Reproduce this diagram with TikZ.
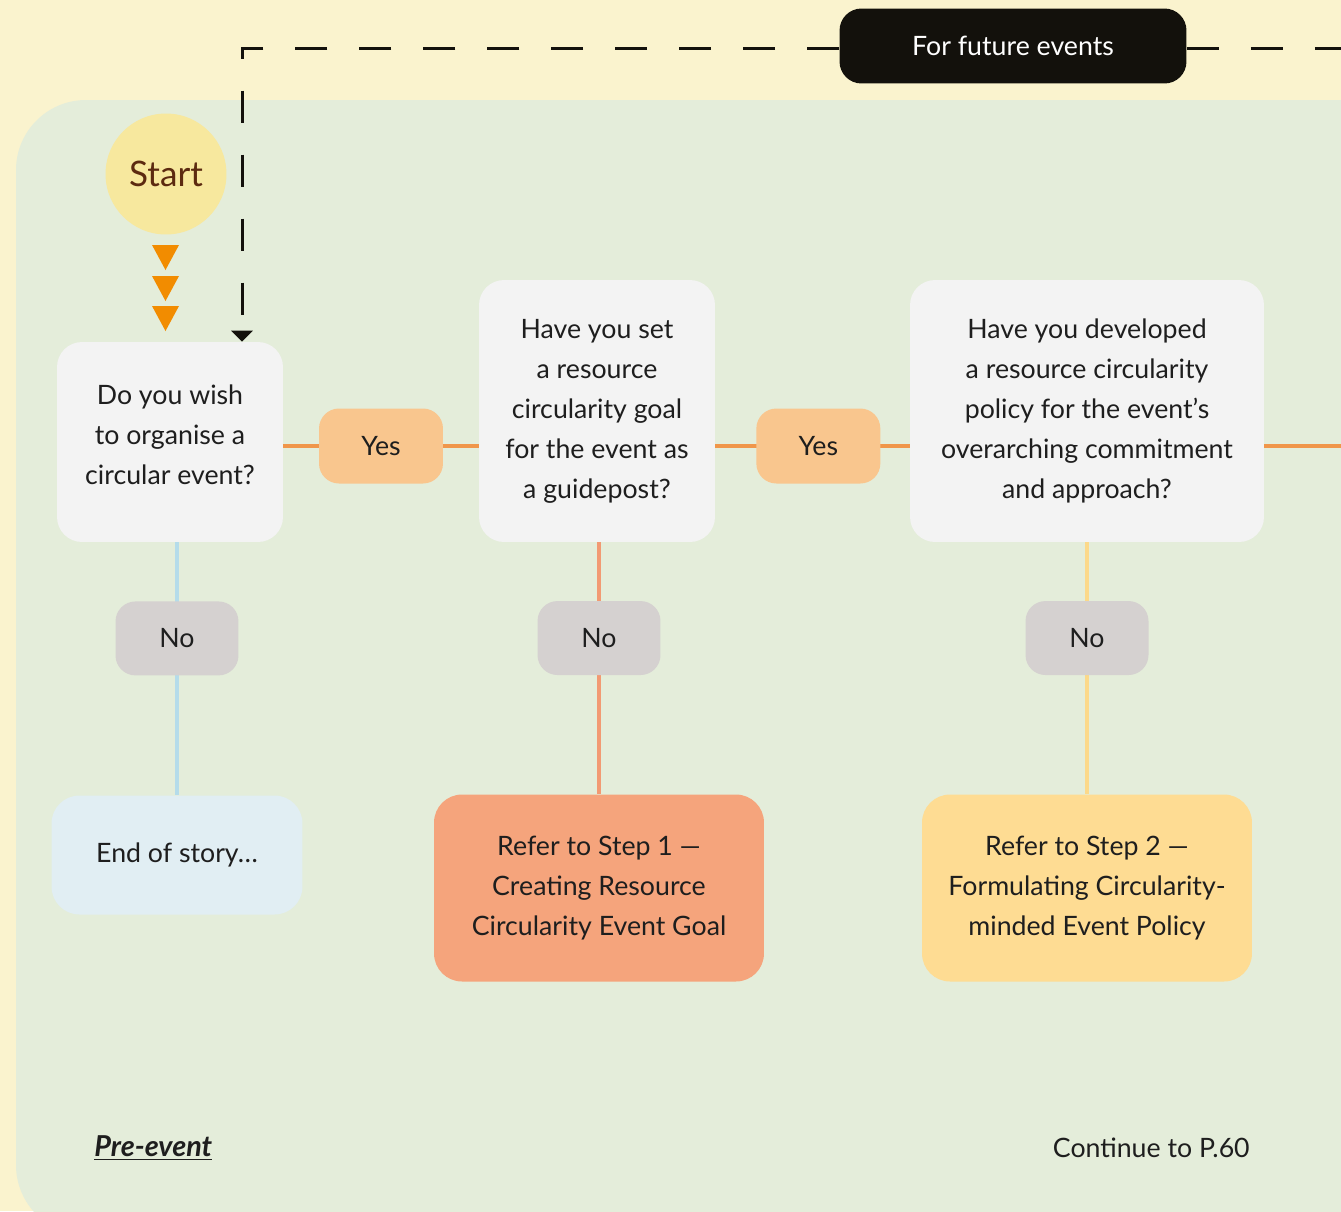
\documentclass[tikz,border=0pt]{standalone}
\usepackage{fontspec}
\setmainfont{Lato}
\usetikzlibrary{positioning,arrows.meta}

\definecolor{creambg}{RGB}{250,243,206}
\definecolor{panelgreen}{RGB}{228,237,218}
\definecolor{boxgrey}{RGB}{243,243,243}
\definecolor{yesorange}{RGB}{249,198,142}
\definecolor{nogrey}{RGB}{213,209,208}
\definecolor{lineorange}{RGB}{240,150,74}
\definecolor{lineblue}{RGB}{181,220,234}
\definecolor{linesalmon}{RGB}{242,154,115}
\definecolor{lineyellow}{RGB}{252,217,138}
\definecolor{endblue}{RGB}{225,238,243}
\definecolor{stepsalmon}{RGB}{245,164,124}
\definecolor{stepyellow}{RGB}{254,220,147}
\definecolor{startyellow}{RGB}{247,232,158}
\definecolor{startbrown}{RGB}{92,42,16}
\definecolor{arroworange}{RGB}{242,140,0}
\definecolor{inkblack}{RGB}{19,17,12}
\definecolor{textdark}{RGB}{30,30,30}

\newcommand{\flowfont}{\fontsize{15.2}{22.76}\selectfont}
\newcommand{\startfont}{\fontsize{20}{24}\selectfont}

\begin{document}
\begin{tikzpicture}[x=0.02cm, y=-0.02cm] %Pre-event
            \tikzstyle{question} = [rectangle, rounded corners=0.5cm, fill=boxgrey, text=textdark, align=center, inner sep=0pt, font=\flowfont]
            \tikzstyle{yesbox} = [rectangle, rounded corners=0.4cm, fill=yesorange, text=textdark, minimum width=2.48cm, minimum height=1.5cm, inner sep=0pt, font=\flowfont]
            \tikzstyle{nobox} = [rectangle, rounded corners=0.4cm, fill=nogrey, text=textdark, minimum width=2.46cm, minimum height=1.48cm, inner sep=0pt, font=\flowfont]
            \tikzstyle{stepbox} = [rectangle, rounded corners=0.56cm, text=textdark, align=center, minimum width=6.6cm, minimum height=3.74cm, inner sep=0pt, font=\flowfont]
            \tikzstyle{endbox} = [rectangle, rounded corners=0.56cm, fill=endblue, text=textdark, minimum width=5.02cm, minimum height=2.38cm, inner sep=0pt, font=\flowfont]
            \tikzstyle{darkbox} = [rectangle, rounded corners=0.44cm, fill=inkblack, text=white, minimum width=6.94cm, minimum height=1.5cm, inner sep=0pt, font=\flowfont]
            \tikzstyle{startcircle} = [circle, fill=startyellow, text=startbrown, minimum size=2.42cm, inner sep=0pt, font=\startfont]
            \tikzstyle{flowline} = [line width=0.08cm]
            \tikzstyle{loopline} = [line width=0.06cm, draw=inkblack, dash pattern=on 0.64cm off 0.64cm]

            \clip (0,0) rectangle (1341,1211);
            \useasboundingbox (0,0) rectangle (1341,1211);
            \fill[creambg] (0,0) rectangle (1341,1211);
            \fill[panelgreen, rounded corners=1.4cm] (16,100) rectangle (1420,1235);

            \node[startcircle] (start) at (166,174) {Start};
            \node[darkbox] (future) at (1013,46) {For future events};

            \node[question, minimum width=4.52cm, minimum height=4cm] (q1) at (170,442) {Do you wish\\to organise a\\circular event?\\[-0.52cm]};
            \node[question, minimum width=4.72cm, minimum height=5.24cm] (q2) at (597,411) {Have you set\\a resource\\circularity goal\\for the event as\\a guidepost?};
            \node[question, minimum width=7.08cm, minimum height=5.24cm] (q3) at (1087,411) {Have you developed\\a resource circularity\\policy for the event’s\\overarching commitment\\and approach?};

            \node[endbox] (endstory) at (177,855) {End of story…};
            \node[stepbox, fill=stepsalmon] (step1) at (599,888) {Refer to Step 1 —\\Creating Resource\\Circularity Event Goal};
            \node[stepbox, fill=stepyellow] (step2) at (1087,888) {Refer to Step 2 —\\Formulating Circularity-\\minded Event Policy};

            \node[anchor=west, inner sep=0pt, text=textdark, font=\fontsize{16.4}{20}\selectfont] (phase) at (94,1148) {\underline{\textbf{\textit{Pre-event}}}};
            \node[anchor=east, inner sep=0pt, text=textdark, font=\flowfont] (nextpage) at (1250,1148) {Continue to P.60};

            % yes row
            \coordinate (rowline) at (0,446);
            \coordinate (exitright) at (1345,446);
            \draw[flowline, lineorange] (q1.east |- rowline) -- node[yesbox] (yes1) {Yes} (q2.west |- rowline);
            \draw[flowline, lineorange] (q2.east |- rowline) -- node[yesbox, pos=0.53] (yes2) {Yes} (q3.west |- rowline);
            \draw[flowline, lineorange] (q3.east |- rowline) -- (exitright);

            % no columns
            \draw[flowline, lineblue] (q1.south -| endstory.north) -- node[nobox, pos=0.38] (no1) {No} (endstory.north);
            \draw[flowline, linesalmon] (q2.south -| step1.north) -- node[nobox, pos=0.38] (no2) {No} (step1.north);
            \draw[flowline, lineyellow] (q3.south -| step2.north) -- node[nobox, pos=0.38] (no3) {No} (step2.north);

            \foreach \ty in {245,276,306}
            {
				\fill[arroworange] (152,\ty) -- (179,\ty) -- (165.5,\ty+25) -- cycle;
			}

            % loop back
            \coordinate (loopcorner) at (242,48);
            \coordinate (exitloop) at (1345,48);
            \draw[loopline, -{Triangle[width=0.42cm,length=0.22cm]}] (future.west |- loopcorner) -- (loopcorner) -- (loopcorner |- q1.north);
            \draw[loopline] (future.east |- loopcorner) -- (exitloop);
        \end{tikzpicture}
\end{document}
